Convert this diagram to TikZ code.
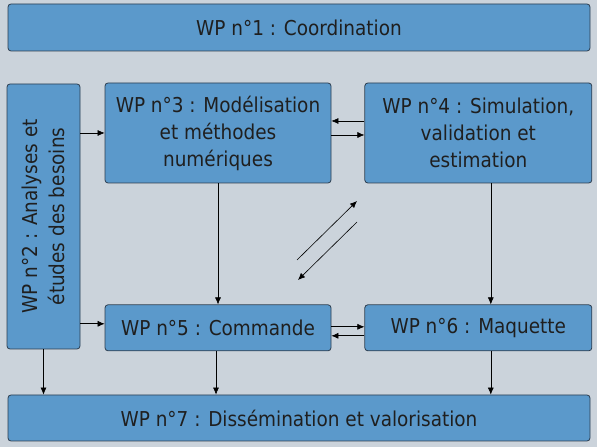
\documentclass[tikz,border=0pt]{standalone}
\usepackage{fontspec}
\setmainfont{DejaVu Sans Condensed}
\definecolor{wpfill}{RGB}{91,153,203}
\definecolor{wpline}{RGB}{45,62,80}
\definecolor{wpback}{RGB}{203,211,219}
\usetikzlibrary{arrows.meta,positioning}

\begin{document}
\begin{tikzpicture}[x=1pt,y=1pt,
  wpbox/.style={draw=wpline,fill=wpfill,rounded corners=3pt,line width=0.8pt,align=center,inner sep=0pt,font=\fontsize{20.5}{27}\selectfont,text=black!88},
  arr/.style={-{Latex[length=7pt,width=6pt]},line width=0.6pt}]
\fill[wpback] (0,0) rectangle (597,447);
\useasboundingbox (0,0) rectangle (597,447);
\node[wpbox,minimum width=582pt,minimum height=47pt] (wp1) at (299,419.5) {WP n°1 : Coordination};
\node[wpbox,rotate=90,minimum width=265pt,minimum height=73pt] (wp2) at (43.5,230.5) {WP n°2 : Analyses et\\études des besoins};
\node[wpbox,minimum width=226pt,minimum height=100pt] (wp3) at (218,314) {WP n°3 : Modélisation\\et méthodes\\numériques};
\node[wpbox,right=33pt of wp3,minimum width=227pt,minimum height=100pt] (wp4) {WP n°4 : Simulation,\\validation et\\estimation};
\node[wpbox,below=121pt of wp3,minimum width=226pt,minimum height=46pt] (wp5) {WP n°5 : Commande};
\node[wpbox,right=33pt of wp5,minimum width=227pt,minimum height=46pt] (wp6) {WP n°6 : Maquette};
\node[wpbox,minimum width=582pt,minimum height=46pt] (wp7) at (299,29) {WP n°7 : Dissémination et valorisation};
% free diagonal arrows between 4 and 5
\coordinate (d1) at (297,187);
\coordinate (d2) at (357,246);
\coordinate (d3) at (357,225);
\coordinate (d4) at (298,167);
\draw[arr] (wp3.west -| wp2.south) -- (wp3.west);
\draw[arr] ([yshift=4pt]wp5.west -| wp2.south) -- ([yshift=4pt]wp5.west);
\draw[arr] ([yshift=12pt]wp4.west) -- ([yshift=12pt]wp3.east);
\draw[arr] ([yshift=-2pt]wp3.east) -- ([yshift=-2pt]wp4.west);
\draw[arr] ([yshift=1pt]wp5.east) -- ([yshift=1pt]wp6.west);
\draw[arr] ([yshift=-8pt]wp6.west) -- ([yshift=-8pt]wp5.east);
\draw[arr] (wp3.south) -- (wp5.north);
\draw[arr] ([xshift=12.5pt]wp4.south) -- ([xshift=12.5pt]wp6.north);
\draw[arr] (wp2.west) -- (wp2.west |- wp7.north);
\draw[arr] ([xshift=-2pt]wp5.south) -- ([xshift=-2pt]wp5.south |- wp7.north);
\draw[arr] ([xshift=12.5pt]wp6.south) -- ([xshift=12.5pt]wp6.south |- wp7.north);
\draw[arr] (d1) -- (d2);
\draw[arr] (d3) -- (d4);
\end{tikzpicture}
\end{document}
